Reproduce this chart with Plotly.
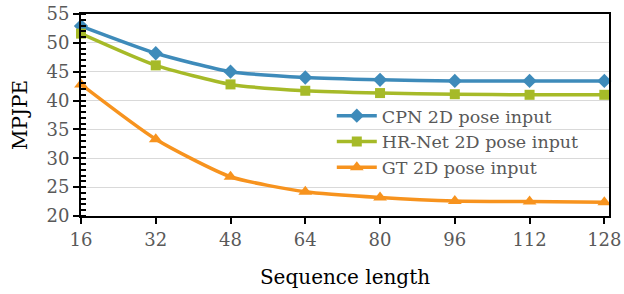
import plotly.graph_objects as go

seq_len = [16, 32, 48, 64, 80, 96, 112, 128]
cpn = [52.9, 48.2, 45.0, 44.0, 43.6, 43.4, 43.4, 43.4]
hrnet = [51.6, 46.1, 42.8, 41.7, 41.3, 41.1, 41.0, 41.0]
gt = [42.8, 33.3, 26.8, 24.2, 23.2, 22.6, 22.5, 22.4]

series = [
    ("CPN 2D pose input", cpn, "#3E8BBA", "diamond", 11),
    ("HR-Net 2D pose input", hrnet, "#A6BA28", "square", 10),
    ("GT 2D pose input", gt, "#F7931E", "triangle-up", 12),
]

FONT = "DejaVu Serif"
fig = go.Figure()
for name, ys, color, sym, size in series:
    fig.add_trace(go.Scatter(
        x=seq_len, y=ys, name=name, mode="lines+markers",
        line=dict(color=color, width=3.5, shape="spline", smoothing=0.6),
        marker=dict(symbol=sym, size=size, color=color),
        cliponaxis=False,
    ))

# white legend panel over the gridlines, beneath the traces
fig.add_shape(type="rect", xref="paper", yref="paper",
              x0=0.481, x1=0.983, y0=0.188, y1=0.55,
              fillcolor="white", line=dict(width=0), layer="between")

fig.update_layout(
    width=624, height=294,
    margin=dict(l=81, r=15, t=14, b=78, autoexpand=False),
    plot_bgcolor="white", paper_bgcolor="white",
    font=dict(family=FONT, color="#595959", size=18),
    showlegend=True,
    legend=dict(
        x=0.475, y=0.585, xanchor="left", yanchor="top",
        bgcolor="rgba(0,0,0,0)", font=dict(size=17.5, color="#595959"),
        tracegroupgap=0, itemwidth=40,
    ),
    xaxis=dict(
        range=[16, 129], tickvals=seq_len, ticktext=[str(v) for v in seq_len],
        showline=True, linecolor="black", linewidth=2, mirror=True,
        ticks="outside", ticklen=6, tickcolor="black", tickwidth=2,
        showgrid=False, zeroline=False, ticklabeloverflow="allow", automargin=False,
        title=dict(text="Sequence length", font=dict(size=20, color="black"), standoff=21),
    ),
    yaxis=dict(
        range=[20, 55], dtick=5,
        showline=True, linecolor="black", linewidth=2, mirror=True,
        ticks="outside", ticklen=6, tickcolor="black", tickwidth=2,
        showgrid=True, gridcolor="#D9D9D9", gridwidth=1, zeroline=False,
        ticklabeloverflow="allow", automargin=False,
        minor=dict(dtick=1, ticks="inside", ticklen=5, tickcolor="black", showgrid=False),
        title=dict(text="MPJPE", font=dict(size=20, color="black"), standoff=13),
    ),
)

fig.write_html("out.html", config={"displayModeBar": False},
               post_script="document.body.style.margin='0';")
